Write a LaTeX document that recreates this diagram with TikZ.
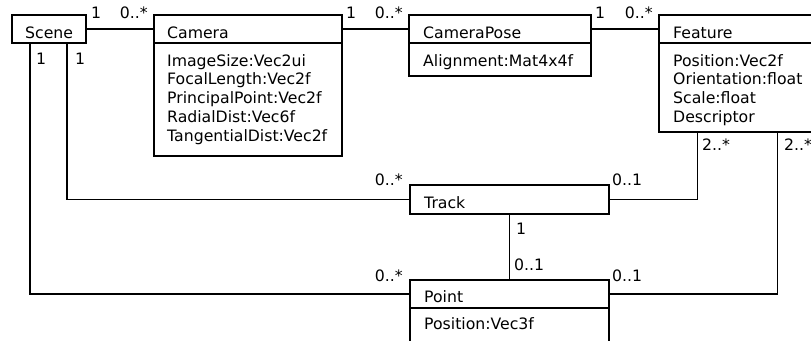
\documentclass[tikz,border=0pt]{standalone}
\usepackage{fontspec}
\setmainfont{DejaVu Sans}
\begin{document}
\begin{tikzpicture}[x=1pt,y=-1pt,
  box/.style={draw, line width=1.5pt, rectangle, inner sep=0pt, anchor=north west},
  txt/.style={anchor=base west, inner sep=0pt, font=\fontsize{15.7}{18.75}\selectfont},
  txtr/.style={txt, anchor=base east},
  assoc/.style={line width=1.5pt}]
\useasboundingbox (0,0) rectangle (811,340);
\clip (0,0) rectangle (811,340);

% class boxes
\node[box, minimum width=74pt,  minimum height=28pt]  (scene) at (11,14) {};
\node[box, minimum width=188pt, minimum height=28pt]  (camH)  at (153,14) {};
\node[box, minimum width=188pt, minimum height=113pt] (camB)  at (153,42) {};
\node[box, minimum width=182pt, minimum height=28pt]  (cpH)   at (408,14) {};
\node[box, minimum width=182pt, minimum height=33pt]  (cpB)   at (408,42) {};
\node[box, minimum width=170pt, minimum height=28pt]  (featH) at (658,14) {};
\node[box, minimum width=170pt, minimum height=89pt]  (featB) at (658,42) {};
\node[box, minimum width=199pt, minimum height=29pt]  (track) at (409,184) {};
\node[box, minimum width=199pt, minimum height=28pt]  (pointH) at (409,279) {};
\node[box, minimum width=199pt, minimum height=60pt]  (pointB) at (409,307) {};

% class names and attributes
\node[txt] (sceneT) at (25,38) {Scene};
\node[txt] (camT) at (167,38) {Camera};
\node[txt] (camA1) at (167,66) {ImageSize:Vec2ui};
\node[txt] (camA2) at (167,84.75) {FocalLength:Vec2f};
\node[txt] (camA3) at (167,103.5) {PrincipalPoint:Vec2f};
\node[txt] (camA4) at (167,122.25) {RadialDist:Vec6f};
\node[txt] (camA5) at (167,141) {TangentialDist:Vec2f};
\node[txt] (cpT) at (423,38) {CameraPose};
\node[txt] (cpA1) at (423,66) {Alignment:Mat4x4f};
\node[txt] (featT) at (673,38) {Feature};
\node[txt] (featA1) at (673,66) {Position:Vec2f};
\node[txt] (featA2) at (673,84.75) {Orientation:float};
\node[txt] (featA3) at (673,103.5) {Scale:float};
\node[txt] (featA4) at (673,122.25) {Descriptor};
\node[txt] (trackT) at (424,208) {Track};
\node[txt] (pointT) at (424,302) {Point};
\node[txt] (pointA1) at (424,329) {Position:Vec3f};

% associations
\coordinate (sceneL) at ([xshift=19pt]scene.south west);
\coordinate (sceneR) at ([xshift=56pt]scene.south west);
\coordinate (featL) at ([xshift=39.5pt]featB.south west);
\coordinate (featR) at ([xshift=119.5pt]featB.south west);
\draw[assoc] (scene.east) -- (camH.west);
\draw[assoc] (camH.east) -- (cpH.west);
\draw[assoc] (cpH.east) -- (featH.west);
\draw[assoc] (sceneL) |- (pointH.west);
\draw[assoc] (sceneR) |- (track.west);
\draw[assoc] (featL) |- (track.east);
\draw[assoc] (featR) |- (pointH.east);
\draw[assoc] (track.south) -- (pointH.north);

% multiplicities
\node[txt]  (m1)  at (91,18.5) {1};
\node[txtr] (m2)  at (148,18.5) {0..*};
\node[txt]  (m3)  at (346,18.5) {1};
\node[txtr] (m4)  at (403,18.5) {0..*};
\node[txt]  (m5)  at (595,18.5) {1};
\node[txtr] (m6)  at (653,18.5) {0..*};
\node[txt]  (m7)  at (36,64) {1};
\node[txt]  (m8)  at (75,64) {1};
\node[txt]  (m9)  at (702,150) {2..*};
\node[txt]  (m10) at (784,150) {2..*};
\node[txtr] (m11) at (403,185) {0..*};
\node[txt]  (m12) at (612,185) {0..1};
\node[txt]  (m13) at (516,234) {1};
\node[txt]  (m14) at (514,270) {0..1};
\node[txtr] (m15) at (403,281) {0..*};
\node[txt]  (m16) at (612,281) {0..1};
\end{tikzpicture}
\end{document}
